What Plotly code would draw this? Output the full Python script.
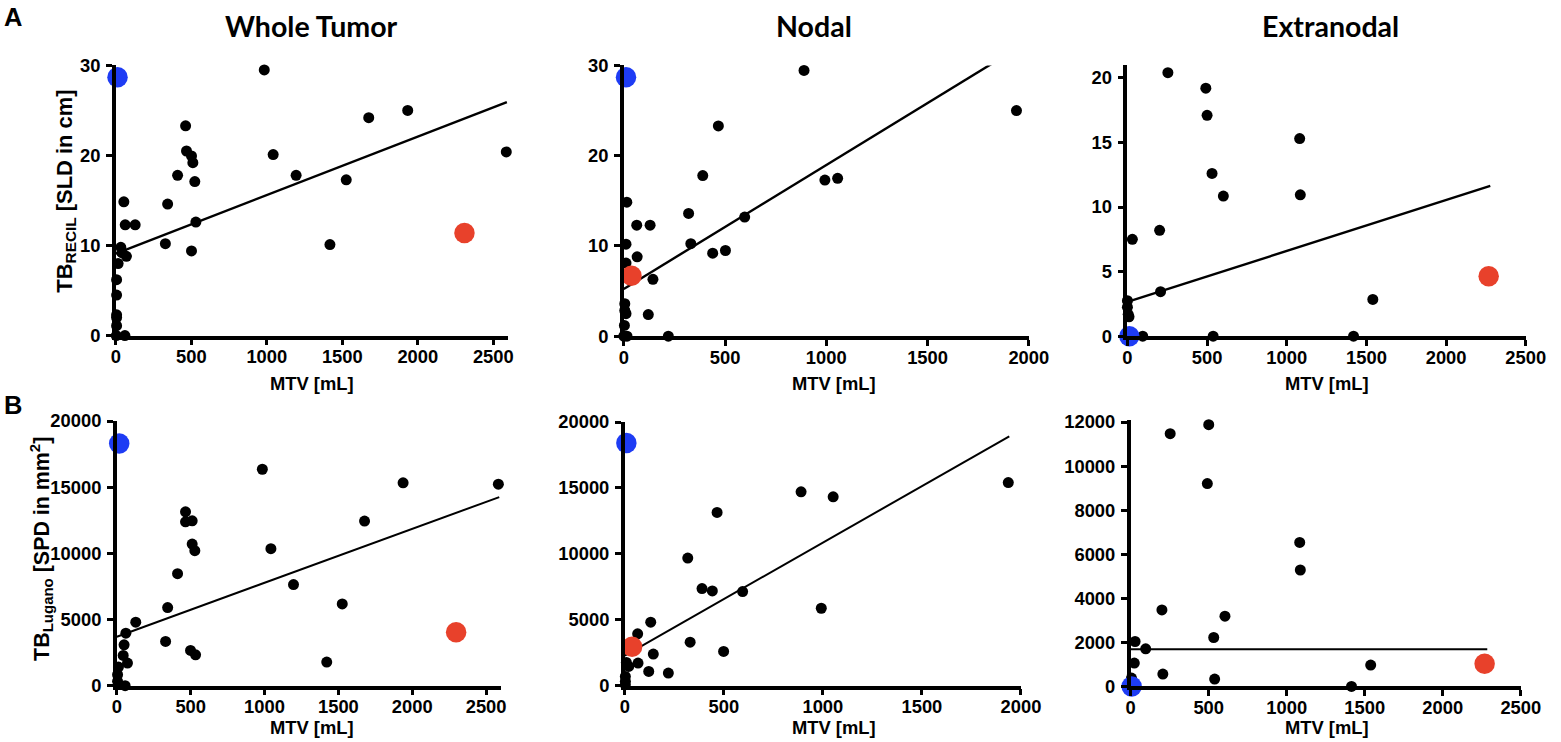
import plotly.graph_objects as go

W, H = 1561, 742

# ---------------- data ----------------
# Row A: TB_RECIL (SLD in cm) vs MTV (mL)
whole_recil_x = [983, 1933, 1675, 462, 468, 501, 510, 2586, 1042, 409, 1194, 523, 1526, 53, 343,
                 62, 128, 530, 328, 1418, 501, 33, 40, 70, 15, 5, 5, 5, 5, 5, 3, 60]
whole_recil_y = [29.5, 25.0, 24.2, 23.3, 20.5, 19.95, 19.2, 20.4, 20.1, 17.8, 17.8, 17.1, 17.3, 14.85, 14.6,
                 12.3, 12.3, 12.6, 10.2, 10.1, 9.4, 9.8, 9.2, 8.8, 8.0, 6.2, 4.5, 2.3, 2.0, 1.1, 0, 0]
whole_recil_blue = (11, 28.7)
whole_recil_red = (2309, 11.4)

nodal_recil_x = [890, 1939, 467, 390, 993, 1056, 15, 320, 597, 64, 130, 11, 331, 439, 502, 66, 11,
                 144, 5, 5, 11, 121, 3, 16, 220, 0]
nodal_recil_y = [29.45, 25.0, 23.3, 17.8, 17.3, 17.5, 14.85, 13.6, 13.2, 12.3, 12.3, 10.2, 10.25, 9.2, 9.5,
                 8.8, 8.1, 6.3, 3.6, 2.85, 2.5, 2.4, 1.2, 0, 0, 0]
nodal_recil_blue = (11, 28.7)
nodal_recil_red = (38, 6.7)

extra_recil_x = [254, 492, 500, 1081, 531, 602, 1085, 202, 31, 208, 1540, 0, 0, 5, 10, 96, 538, 1419]
extra_recil_y = [20.4, 19.2, 17.1, 15.3, 12.6, 10.85, 10.95, 8.2, 7.5, 3.45, 2.85, 2.75, 2.25, 1.7, 1.5, 0, 0, 0]
extra_recil_blue = (12, 0)
extra_recil_red = (2267, 4.65)

# Row B: TB_Lugano (SPD in mm^2) vs MTV (mL)
whole_lug_x = [985, 1938, 2583, 465, 465, 510, 1677, 510, 528, 1043, 411, 1196, 344, 1526, 128, 61,
               330, 49, 499, 533, 43, 72, 1421, 11, 5, 5, 56]
whole_lug_y = [16357, 15327, 15226, 13141, 12387, 12462, 12437, 10704, 10201, 10352, 8467, 7638, 5905,
               6181, 4799, 3970, 3342, 3090, 2663, 2337, 2286, 1709, 1784, 1407, 830, 330, 0]
whole_lug_blue = (16, 18300)
whole_lug_red = (2297, 4045)

nodal_lug_x = [1936, 890, 1052, 466, 318, 390, 442, 595, 992, 131, 65, 330, 499, 144, 67, 8, 20, 121,
               220, 3, 3, 3]
nodal_lug_y = [15410, 14705, 14327, 13140, 9685, 7365, 7188, 7137, 5876, 4817, 3935, 3304, 2598, 2396,
               1715, 1765, 1463, 1084, 958, 706, 330, 75]
nodal_lug_blue = (8, 18410)
nodal_lug_red = (37, 2951)

extra_lug_x = [253, 500, 491, 1083, 1087, 200, 604, 532, 28, 96, 23, 1538, 206, 538, 5, 1415]
extra_lug_y = [11472, 11879, 9208, 6536, 5283, 3472, 3185, 2219, 2038, 1706, 1057, 966, 558, 332, 377, 0]
extra_lug_blue = (6, 0)
extra_lug_red = (2268, 1026)

# linear fits: intercept, slope, x end
fit_intercept = [9.1, 5.24, 2.66, 3700, 2282, 1690]
fit_slope = [0.0065, 0.01373, 0.003945, 4.076, 8.57, 0.0]
fit_x_end = [2590, 1939, 2277, 2589, 1941, 2285]

panel_titles = ["Whole Tumor", "Nodal", "Extranodal"]
x_title = "MTV [mL]"
y_title_a = "TB<sub>RECIL</sub> [SLD in cm]"
y_title_b = "TB<sub>Lugano</sub> [SPD in mm<sup>2</sup>]"

x_ranges = [2597, 2000, 2500, 2600, 2000, 2500]
y_ranges = [30, 30, 21, 20000, 20000, 12100]
x_ticks = [[0, 500, 1000, 1500, 2000, 2500], [0, 500, 1000, 1500, 2000], [0, 500, 1000, 1500, 2000, 2500],
           [0, 500, 1000, 1500, 2000, 2500], [0, 500, 1000, 1500, 2000], [0, 500, 1000, 1500, 2000, 2500]]
y_ticks = [[0, 10, 20, 30], [0, 10, 20, 30], [0, 5, 10, 15, 20],
           [0, 5000, 10000, 15000, 20000], [0, 5000, 10000, 15000, 20000],
           [0, 2000, 4000, 6000, 8000, 10000, 12000]]

panels = [
    (whole_recil_x, whole_recil_y, whole_recil_blue, whole_recil_red),
    (nodal_recil_x, nodal_recil_y, nodal_recil_blue, nodal_recil_red),
    (extra_recil_x, extra_recil_y, extra_recil_blue, extra_recil_red),
    (whole_lug_x, whole_lug_y, whole_lug_blue, whole_lug_red),
    (nodal_lug_x, nodal_lug_y, nodal_lug_blue, nodal_lug_red),
    (extra_lug_x, extra_lug_y, extra_lug_blue, extra_lug_red),
]

# ---------------- layout geometry (target picture pixels) ----------------
# the photographed page comes out slightly scaled; map target pixels to figure pixels
SX, OX = 0.988, 2.0
SY, OY = 0.974, 9.7
def fx(p):
    return (p - OX) / SX
def fy(p):
    return (p - OY) / SY
FS = 1.02  # font compensation

# (left, right, top, bottom) of each plot area
boxes = [
    (113.3, 507.0, 64.3, 335.0),
    (623.3, 1030.0, 64.3, 335.7),
    (1129.0, 1529.0, 63.8, 335.7),
    (114.3, 499.9, 420.7, 686.0),
    (624.3, 1022.1, 421.7, 686.0),
    (1132.3, 1524.0, 419.5, 686.7),
]

BLUE = "#1E3CF4"
RED = "#E8412B"
TICKFONT = dict(family="Liberation Sans, Arial", size=18 * FS, color="black")

fig = go.Figure()
layout = dict(width=W, height=H, margin=dict(l=0, r=0, t=0, b=0),
              paper_bgcolor="white", plot_bgcolor="white", showlegend=False)

for i, (px, py, blue, red) in enumerate(panels):
    n = i + 1
    xa = "x" if n == 1 else f"x{n}"
    ya = "y" if n == 1 else f"y{n}"
    l, r, t, b = boxes[i]
    xkey = "xaxis" if n == 1 else f"xaxis{n}"
    ykey = "yaxis" if n == 1 else f"yaxis{n}"
    common = dict(showline=True, linewidth=3.5, linecolor="black", ticks="outside", ticklen=6,
                  tickwidth=3, tickcolor="black", showgrid=False, zeroline=False, tickfont=TICKFONT)
    layout[xkey] = dict(domain=[fx(l) / W, fx(r) / W], range=[0, x_ranges[i]], tickvals=x_ticks[i],
                        ticktext=[f"<b>{v}</b>" for v in x_ticks[i]], anchor=ya,
                        ticklabelstandoff=-4, **common)
    layout[ykey] = dict(domain=[1 - fy(b) / H, 1 - fy(t) / H], range=[0, y_ranges[i]], tickvals=y_ticks[i],
                        ticktext=[f"<b>{v}</b>" for v in y_ticks[i]], anchor=xa,
                        ticklabelstandoff=2, **common)

    x_end = fit_x_end[i]
    fig.add_trace(go.Scatter(x=[0, x_end], y=[fit_intercept[i], fit_intercept[i] + fit_slope[i] * x_end],
                             mode="lines", line=dict(color="black", width=2.4 if i < 3 else 2.0),
                             xaxis=xa, yaxis=ya, hoverinfo="skip"))
    fig.add_trace(go.Scatter(x=px, y=py, mode="markers", cliponaxis=False,
                             marker=dict(color="black", size=11), xaxis=xa, yaxis=ya))
    fig.add_trace(go.Scatter(x=[red[0]], y=[red[1]], mode="markers", cliponaxis=False,
                             marker=dict(color=RED, size=20.5), xaxis=xa, yaxis=ya))
    fig.add_trace(go.Scatter(x=[blue[0]], y=[blue[1]], mode="markers", cliponaxis=False,
                             marker=dict(color=BLUE, size=20.5), xaxis=xa, yaxis=ya))

ann = []
def add_text(txt, xpx, ypx, size, family="Liberation Sans, Arial", angle=0):
    ann.append(dict(text=f"<b>{txt}</b>", x=fx(xpx) / W, y=1 - fy(ypx) / H, xref="paper", yref="paper",
                    showarrow=False, textangle=angle, xanchor="center", yanchor="middle",
                    font=dict(family=family, size=size * FS, color="black")))

# panel titles
for txt, cx in zip(panel_titles, [309.7, 814.5, 1332.7]):
    add_text(txt, cx, 25, 28, family="Lato, Open Sans")
# panel letters
add_text("A", 10, 16, 25)
add_text("B", 10, 405, 25)
# x-axis titles
for cx, cy in [(310.5, 383), (834.7, 383), (1329.5, 383), (310.5, 728), (834.7, 728), (1329.5, 728)]:
    add_text(x_title, cx, cy, 18)
# y-axis titles
add_text(y_title_a, 63, 190, 21.5, angle=-90)
add_text(y_title_b, 38, 549, 21, angle=-90)

layout["annotations"] = ann
fig.update_layout(**layout)
fig.write_html("out.html", config={"displayModeBar": False},
               post_script="document.body.style.margin='0';document.body.style.overflow='hidden';")
